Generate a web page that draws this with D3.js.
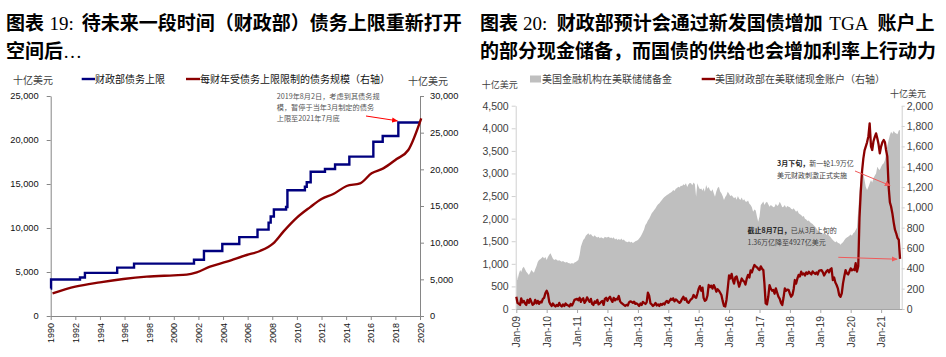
<!DOCTYPE html>
<html><head><meta charset="utf-8">
<script src="https://cdn.jsdelivr.net/npm/d3@7"></script>
<style>body{margin:0;background:#fff}svg{display:block}</style>
</head><body>
<script>
// ---------------- DATA: left chart (十亿美元) ----------------
const ceilingYears  = [1990.0, 1990.03, 1992.38, 1992.78, 1995.4, 1996.77, 2001.64, 2002.45, 2003.94, 2005.32, 2006.8, 2007.7, 2007.87, 2008.13, 2009.12, 2009.23, 2010.65, 2010.8, 2011.12, 2012.28, 2013.1, 2014.26, 2016.21, 2016.97, 2018.24, 2020.0];
const ceilingValues = [3123, 4145, 4370, 4900, 5500, 5950, 6400, 7384, 8184, 8965, 9815, 10615, 11315, 12104, 12394, 14294, 14694, 15194, 16394, 16699, 17212, 18113, 19809, 20456, 21988, 21988];
const subjectYears  = [1990.15, 1992, 1994, 1995.9, 1997.8, 2000, 2001.05, 2001.86, 2002.94, 2004.3, 2005.92, 2007, 2008.08, 2008.9, 2010, 2011.06, 2012, 2012.96, 2014.04, 2015.13, 2016.07, 2017.02, 2018.1, 2019.05, 2020.1];
const subjectValues = [3090, 4000, 4590, 5045, 5364, 5545, 5636, 5955, 6727, 7409, 8318, 8864, 9909, 11500, 13409, 14818, 15955, 16636, 17727, 18091, 19455, 20136, 21409, 22636, 26960];
const leftTicksL = [0, 5000, 10000, 15000, 20000, 25000];
const leftTicksR = [0, 5000, 10000, 15000, 20000, 25000, 30000];
const leftYearTicks = [1990,1992,1994,1996,1998,2000,2002,2004,2006,2008,2010,2012,2014,2016,2018,2020];

// ---------------- DATA: right chart (semi-monthly from Jan 2009, 十亿美元) ----------------
const reserves = [
 900,642,780,863,820,900,937,880,826,790,752,800,863,830,800,880,950,1040,1084,1100,1130,1158,1120,1150,
 1084,1150,1200,1232,1180,1120,1084,1100,1090,1070,1080,1060,1047,1060,1040,1030,1040,1020,1010,1000,1020,1000,1030,1040,
 1060,1084,1200,1379,1450,1527,1560,1620,1650,1675,1640,1660,1620,1601,1630,1600,1580,1600,1564,1590,1570,1560,1600,1580,
 1590,1601,1570,1580,1560,1590,1540,1560,1527,1550,1530,1560,1520,1540,1500,1490,1480,1500,1470,1490,1460,1480,1500,1510,
 1527,1560,1601,1650,1700,1760,1859,1900,1960,2000,2060,2117,2150,2190,2230,2280,2320,2339,2380,2410,2450,2480,2500,2523,
 2540,2560,2580,2600,2634,2610,2660,2680,2707,2690,2730,2720,2760,2740,2781,2700,2760,2790,2781,2740,2800,2760,2486,2781,
 2700,2650,2670,2620,2680,2597,2744,2660,2700,2634,2600,2650,2560,2486,2600,2680,2707,2600,2560,2500,2412,2480,2520,2597,
 2550,2500,2520,2486,2450,2480,2420,2500,2440,2412,2470,2400,2430,2380,2376,2400,2330,2300,2250,2154,2200,2180,2050,1932,
 2050,2302,2340,2380,2300,2350,2376,2320,2265,2300,2280,2250,2265,2330,2280,2300,2376,2320,2250,2265,2300,2240,2280,2265,
 2250,2220,2200,2230,2191,2150,2180,2120,2100,2080,2043,2060,2000,1980,1950,1960,1920,1896,1880,1850,1820,1780,1740,1711,
 1700,1680,1650,1690,1675,1640,1675,1620,1600,1560,1527,1500,1480,1500,1460,1454,1420,1454,1480,1520,1560,1580,1601,1620,
 1650,1620,1675,1700,1750,1800,2191,2600,2900,3150,3000,2850,2700,2634,2700,2780,2855,2800,2900,2950,3000,3150,3100,3076,
 3150,3200,3224,3300,3450,3600,3740,3850,3924,3880,3940,3900,3887,3870,3950,3961
];
const tga = [
 121,60,50,40,105,65,80,55,40,90,60,100,70,40,50,90,55,80,50,72,65,100,110,154,
 180,150,70,45,30,55,35,25,40,30,60,35,25,45,30,55,40,35,25,50,35,60,90,95,
 100,85,110,70,95,105,60,80,115,90,70,100,50,40,75,60,90,45,55,70,80,40,100,110,
 80,105,120,90,70,110,85,100,95,128,75,60,50,40,30,40,35,65,75,70,60,72,50,55,
 45,30,55,40,70,60,50,65,160,130,55,45,30,40,60,35,45,30,50,40,55,45,70,80,
 60,80,100,90,105,75,95,85,70,60,75,100,120,90,105,70,60,80,95,105,138,120,110,150,
 200,225,180,210,110,80,90,130,236,215,230,200,235,210,170,195,180,160,138,80,30,25,89,200,
 330,300,345,285,250,310,320,270,220,260,300,280,270,240,300,335,310,380,360,400,433,420,410,395,
 383,420,395,383,250,55,45,120,235,200,180,187,150,203,160,121,100,60,39,110,203,180,190,187,
 150,121,140,200,285,250,300,335,320,367,340,350,330,360,345,367,350,340,370,355,345,360,340,375,
 380,383,360,330,350,370,383,360,390,400,285,310,260,236,200,138,120,154,252,320,383,350,340,367,
 400,380,390,383,450,367,420,900,1150,1350,1480,1560,1600,1640,1700,1827,1600,1564,1650,1690,1728,1680,1620,1532,
 1600,1640,1663,1640,1564,1500,1203,1050,1006,940,850,780,745,700,679,493
];
const rightTicksL = [0,500,1000,1500,2000,2500,3000,3500,4000,4500];
const rightTicksR = [0,200,400,600,800,1000,1200,1400,1600,1800,2000];
const rightYears = [2009,2010,2011,2012,2013,2014,2015,2016,2017,2018,2019,2020,2021];

// ---------------- RENDER ----------------
const CJK = "'Noto Sans CJK SC', 'Noto Sans CJK JP', sans-serif";
const SERIF = "'Liberation Serif', 'DejaVu Serif', serif";
const SANS = "'Liberation Sans', Arial, sans-serif";

const svg = d3.select("body").append("svg").attr("width", 946).attr("height", 357);
svg.append("rect").attr("width", 946).attr("height", 357).attr("fill", "#fff");

const defs = svg.append("defs");
function marker(id, color) {
  defs.append("marker").attr("id", id).attr("viewBox", "0 0 8 8").attr("refX", 7).attr("refY", 4)
    .attr("markerWidth", 6).attr("markerHeight", 6).attr("orient", "auto")
    .append("path").attr("d", "M0,0.5 L8,4 L0,7.5 Z").attr("fill", color);
}
marker("arrL", "#ff0000");
marker("arrR", "#f05a5a");

function titleLine(x, y, parts) {
  const t = svg.append("text").attr("x", x).attr("y", y).attr("font-size", 19).attr("fill", "#000");
  parts.forEach(p => {
    const s = t.append("tspan").text(p.t)
      .attr("font-family", p.serif ? SERIF : CJK)
      .attr("font-weight", p.serif ? 400 : 700);
    if (p.dx) s.attr("dx", p.dx);
  });
}
function styleAxis(g, lineColor, size, fill) {
  g.select(".domain").attr("stroke", lineColor);
  g.selectAll(".tick line").attr("stroke", lineColor);
  g.selectAll(".tick text").attr("font-family", SANS).attr("font-size", size).attr("fill", fill);
}

// ---------- Left chart ----------
titleLine(6, 29.5, [{t:"图表"}, {t:"19:", serif:true, dx:5.5}, {t:"待未来一段时间（财政部）债务上限重新打开", dx:8}]);
titleLine(6, 58, [{t:"空间后"}, {t:"…", serif:true}]);

const xL = d3.scaleLinear().domain([1990, 2020]).range([50.7, 420]);
const yLl = d3.scaleLinear().domain([0, 25000]).range([316, 96]);
const yLr = d3.scaleLinear().domain([0, 30000]).range([316, 96]);

const gLl = svg.append("g").attr("transform", "translate(50.7,0)")
  .call(d3.axisLeft(yLl).tickValues(leftTicksL).tickFormat(d3.format(",")).tickSize(4).tickSizeOuter(0).tickPadding(8));
styleAxis(gLl, "#868686", 9.3, "#111");
const gLr = svg.append("g").attr("transform", "translate(420,0)")
  .call(d3.axisRight(yLr).tickValues(leftTicksR).tickFormat(d3.format(",")).tickSize(4).tickSizeOuter(0).tickPadding(6));
styleAxis(gLr, "#868686", 9.3, "#111");
const gLx = svg.append("g").attr("transform", "translate(0,316)")
  .call(d3.axisBottom(xL).tickValues(leftYearTicks).tickFormat(d3.format("d")).tickSize(4).tickSizeOuter(0));
styleAxis(gLx, "#868686", 9, "#111");
gLx.selectAll(".tick text").attr("transform", "rotate(-90)").attr("text-anchor", "end")
  .attr("x", -7).attr("y", 0).attr("dy", "0.35em");

const ceilPts = ceilingYears.map((y, i) => [y, ceilingValues[i]]);
svg.append("path").datum(ceilPts)
  .attr("d", d3.line().x(d => xL(d[0])).y(d => yLl(d[1])).curve(d3.curveStepAfter))
  .attr("fill", "none").attr("stroke", "#00007f").attr("stroke-width", 2.4);
const subjPts = subjectYears.map((y, i) => [y, subjectValues[i]]);
svg.append("path").datum(subjPts)
  .attr("d", d3.line().x(d => xL(d[0])).y(d => yLr(d[1])).curve(d3.curveMonotoneX))
  .attr("fill", "none").attr("stroke", "#8b0000").attr("stroke-width", 2.4);

// legend & units
svg.append("text").attr("x", 13).attr("y", 83.5).attr("font-family", CJK).attr("font-size", 10).attr("fill", "#404040").text("十亿美元");
svg.append("text").attr("x", 408).attr("y", 85).attr("font-family", CJK).attr("font-size", 10).attr("fill", "#404040").text("十亿美元");
svg.append("line").attr("x1", 81.7).attr("x2", 95).attr("y1", 79).attr("y2", 79).attr("stroke", "#00007f").attr("stroke-width", 2.4);
svg.append("text").attr("x", 95).attr("y", 82.5).attr("font-family", CJK).attr("font-size", 10).attr("fill", "#111").text("财政部债务上限");
svg.append("line").attr("x1", 186).attr("x2", 200).attr("y1", 79).attr("y2", 79).attr("stroke", "#8b0000").attr("stroke-width", 2.4);
svg.append("text").attr("x", 200).attr("y", 82.5).attr("font-family", CJK).attr("font-size", 10).attr("fill", "#111").text("每财年受债务上限限制的债务规模（右轴）");

// annotation
const noteL = ["2019年8月2日，考虑到其债务规", "模，暂停于当年3月制定的债务", "上限至2021年7月底"];
noteL.forEach((s, i) => svg.append("text").attr("x", 276.7).attr("y", 98.6 + i * 11.2)
  .attr("font-family", CJK).attr("font-size", 7.2).attr("fill", "#555").text(s));
svg.append("line").attr("x1", 366).attr("y1", 116).attr("x2", 397.3).attr("y2", 120.8)
  .attr("stroke", "#ff0000").attr("stroke-width", 1).attr("marker-end", "url(#arrL)");

// ---------- Right chart ----------
titleLine(480, 29.5, [{t:"图表"}, {t:"20:", serif:true, dx:5}, {t:"财政部预计会通过新发国债增加", dx:9.5}, {t:"TGA", serif:true, dx:6.5}, {t:"账户上", dx:9}]);
titleLine(480, 58, [{t:"的部分现金储备，而国债的供给也会增加利率上行动力"}]);

const dateOf = i => new Date(2009, Math.floor(i / 2), i % 2 === 0 ? 1 : 16);
const xR = d3.scaleTime().domain([new Date(2009, 0, 1), new Date(2021, 8, 5)]).range([516.3, 901.7]);
const yRl = d3.scaleLinear().domain([0, 4500]).range([309, 105.7]);
const yRr = d3.scaleLinear().domain([0, 2000]).range([309, 105.7]);

svg.append("path").datum(reserves)
  .attr("d", d3.area().x((d, i) => xR(dateOf(i))).y0(yRl(0)).y1(d => yRl(d)))
  .attr("fill", "#bfbfbf");

const gRl = svg.append("g").attr("transform", "translate(515.7,0)")
  .call(d3.axisLeft(yRl).tickValues(rightTicksL).tickFormat(d3.format(",")).tickSize(4).tickSizeOuter(0).tickPadding(3));
styleAxis(gRl, "#d0d0d0", 10.5, "#404040");
const gRr = svg.append("g").attr("transform", "translate(901.7,0)")
  .call(d3.axisRight(yRr).tickValues(rightTicksR).tickFormat(d3.format(",")).tickSize(3).tickSizeOuter(0).tickPadding(2));
styleAxis(gRr, "#d0d0d0", 10.5, "#404040");
const gRx = svg.append("g").attr("transform", "translate(0,309)")
  .call(d3.axisBottom(xR).tickValues(rightYears.map(y => new Date(y, 0, 1))).tickFormat(d3.timeFormat("%b-%y")).tickSize(4).tickSizeOuter(0));
styleAxis(gRx, "#a6a6a6", 10.3, "#404040");
gRx.selectAll(".tick text").attr("transform", "rotate(-90)").attr("text-anchor", "end")
  .attr("x", -7).attr("y", 0).attr("dy", "0.35em");

svg.append("path").datum(tga)
  .attr("d", d3.line().x((d, i) => xR(dateOf(i))).y(d => yRr(d)))
  .attr("fill", "none").attr("stroke", "#8b0000").attr("stroke-width", 2.3).attr("stroke-linejoin", "round");

// legend & units
svg.append("text").attr("x", 481.7).attr("y", 88).attr("font-family", CJK).attr("font-size", 9).attr("fill", "#404040").text("十亿美元");
svg.append("text").attr("x", 890).attr("y", 97.3).attr("font-family", CJK).attr("font-size", 9).attr("fill", "#404040").text("十亿美元");
svg.append("rect").attr("x", 530).attr("y", 75.5).attr("width", 11).attr("height", 7).attr("fill", "#bfbfbf");
svg.append("text").attr("x", 542).attr("y", 82.5).attr("font-family", CJK).attr("font-size", 10).attr("fill", "#404040").text("美国金融机构在美联储储备金");
svg.append("line").attr("x1", 701.7).attr("x2", 715).attr("y1", 79).attr("y2", 79).attr("stroke", "#8b0000").attr("stroke-width", 2.4);
svg.append("text").attr("x", 715).attr("y", 82.5).attr("font-family", CJK).attr("font-size", 10).attr("fill", "#404040").text("美国财政部在美联储现金账户（右轴）");

// annotations
function note(x, y, lines) {
  lines.forEach((parts, i) => {
    const t = svg.append("text").attr("x", x).attr("y", y + i * 12).attr("font-family", CJK).attr("font-size", 7).attr("fill", "#404040");
    parts.forEach(p => t.append("tspan").text(p.t).attr("font-weight", p.b ? 700 : 400).attr("fill", p.b ? "#222" : "#404040"));
  });
}
note(777, 165.8, [[{t:"3月下旬，", b:true}, {t:"新一轮1.9万亿"}], [{t:"美元财政刺激正式实施"}]]);
note(747.5, 232.5, [[{t:"截止8月7日，", b:true}, {t:"已从3月上旬的"}], [{t:"1.36万亿降至4927亿美元"}]]);
svg.append("line").attr("x1", 855).attr("y1", 171).attr("x2", 890).attr("y2", 185.5)
  .attr("stroke", "#f05a5a").attr("stroke-width", 1).attr("marker-end", "url(#arrR)");
svg.append("line").attr("x1", 838.3).attr("y1", 257.3).attr("x2", 897).attr("y2", 259.2)
  .attr("stroke", "#f05a5a").attr("stroke-width", 1).attr("marker-end", "url(#arrR)");
</script>
</body></html>
